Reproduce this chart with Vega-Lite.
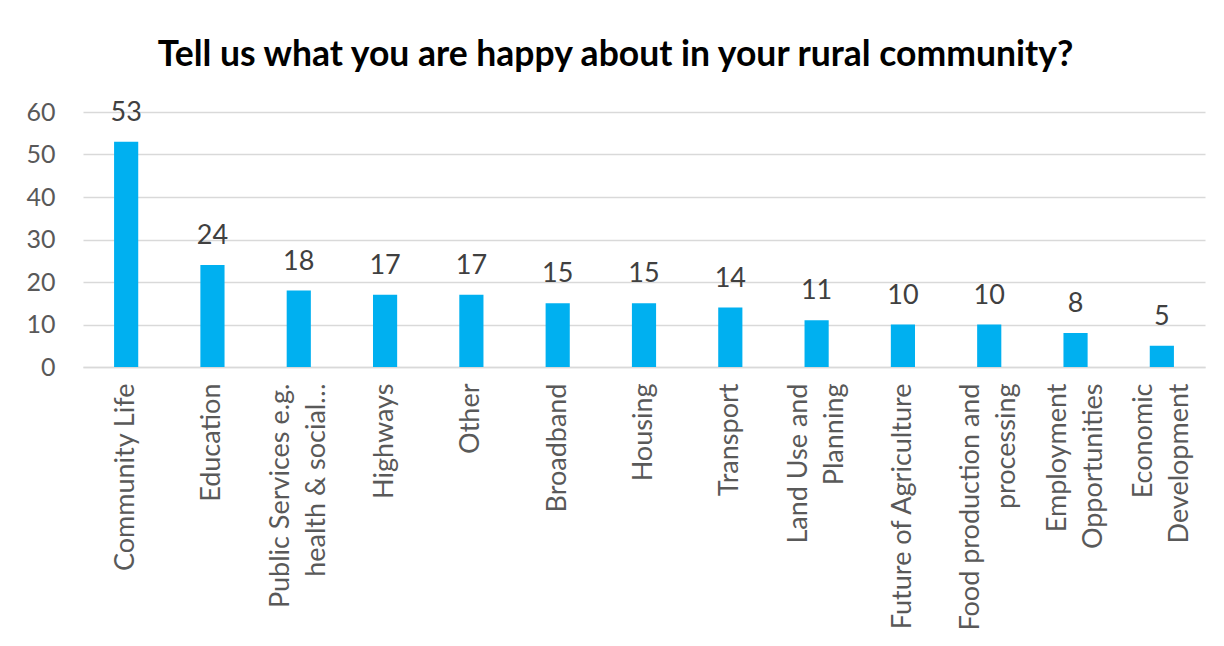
{
  "$schema": "https://vega.github.io/schema/vega-lite/v6.json",
  "width": 1122,
  "height": 255,
  "padding": {"left": 25, "top": 38, "right": 21, "bottom": 5},
  "background": "white",
  "title": {
    "text": "Tell us what you are happy about in your rural community?",
    "font": "Lato",
    "fontSize": 35.5,
    "fontWeight": "bold",
    "color": "#000000",
    "anchor": "middle",
    "frame": "bounds",
    "offset": 25
  },
  "data": {
    "values": [
      {"category": "Community Life", "count": 53},
      {"category": "Education", "count": 24},
      {"category": "Public Services e.g.|health & social…", "count": 18},
      {"category": "Highways", "count": 17},
      {"category": "Other", "count": 17},
      {"category": "Broadband", "count": 15},
      {"category": "Housing", "count": 15},
      {"category": "Transport", "count": 14},
      {"category": "Land Use and|Planning", "count": 11},
      {"category": "Future of Agriculture", "count": 10},
      {"category": "Food production and|processing", "count": 10},
      {"category": "Employment|Opportunities", "count": 8},
      {"category": "Economic|Development", "count": 5}
    ]
  },
  "encoding": {
    "x": {
      "field": "category",
      "type": "nominal",
      "sort": null,
      "scale": {"paddingInner": 0.72, "paddingOuter": 0.36},
      "axis": {
        "title": null,
        "labelAngle": -90,
        "labelAlign": "right",
        "labelBaseline": "middle",
        "labelExpr": "split(datum.label, '|')",
        "labelOffset": {"condition": {"test": "indexof(datum.label, '|') >= 0", "value": -18}, "value": 0},
        "labelFont": "Lato",
        "labelFontSize": 27,
        "labelLineHeight": 36,
        "labelColor": "#595959",
        "labelPadding": 16,
        "labelLimit": 400,
        "ticks": false,
        "domainColor": "#d9d9d9",
        "domainWidth": 1.5,
        "grid": false
      }
    },
    "y": {
      "field": "count",
      "type": "quantitative",
      "scale": {"domain": [0, 60]},
      "axis": {
        "title": null,
        "values": [0, 10, 20, 30, 40, 50, 60],
        "labelFont": "Lato",
        "labelFontSize": 25,
        "labelColor": "#595959",
        "labelPadding": 28,
        "ticks": false,
        "domain": false,
        "grid": true,
        "gridColor": "#d9d9d9",
        "gridWidth": 1.5
      }
    }
  },
  "layer": [
    {"mark": {"type": "bar", "color": "#00B0F0"}},
    {
      "mark": {"type": "text", "baseline": "alphabetic", "dy": -21, "font": "Lato", "fontSize": 27, "color": "#404040"},
      "encoding": {"text": {"field": "count", "type": "quantitative"}}
    }
  ],
  "config": {"view": {"stroke": null}}
}
